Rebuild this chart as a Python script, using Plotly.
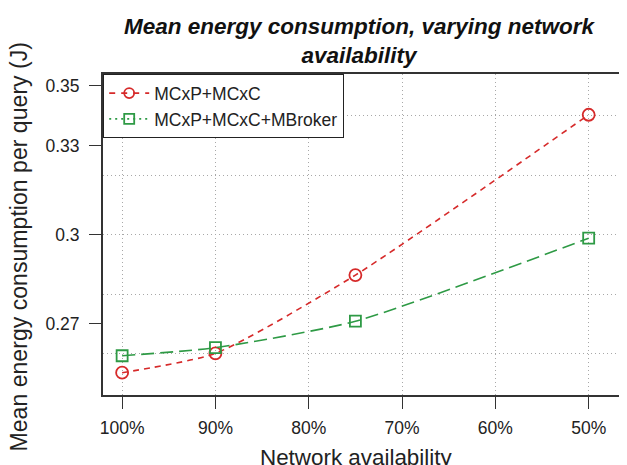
import plotly.graph_objects as go

availability = [100, 90, 75, 50]
mcxp_mcxc = [0.2536, 0.2601, 0.2864, 0.3403]
mcxp_mcxc_mbroker = [0.2593, 0.2620, 0.2709, 0.2988]

x_ticks = [100, 90, 80, 70, 60, 50]
x_tick_labels = ["100%", "90%", "80%", "70%", "60%", "50%"]
y_ticks = [0.27, 0.30, 0.33, 0.35]
y_tick_labels = ["0.27", "0.3", "0.33", "0.35"]

x_title = "Network availability"
y_title = "Mean energy consumption per query (J)"

RED = "#D62A2A"
GREEN = "#2E9A45"
FONT = "Liberation Sans, Arial, Helvetica, sans-serif"
GRID = "#A8A8A8"

fig = go.Figure()

fig.add_trace(go.Scatter(
    x=availability, y=mcxp_mcxc, mode="lines+markers", showlegend=False,
    line=dict(color=RED, width=1.6, dash="6px,5px", shape="spline", smoothing=0.6),
    marker=dict(symbol="circle-open", size=12, color=RED, line=dict(width=1.8)),
))
fig.add_trace(go.Scatter(
    x=availability, y=mcxp_mcxc_mbroker, mode="lines+markers", showlegend=False,
    line=dict(color=GREEN, width=1.6, dash="13px,6px", shape="spline", smoothing=0.6),
    marker=dict(symbol="square-open", size=11, color=GREEN, line=dict(width=1.8)),
))
# legend-only entries (legend shows dashed / dotted styles)
fig.add_trace(go.Scatter(
    x=[None], y=[None], mode="lines+markers", name="MCxP+MCxC",
    line=dict(color=RED, width=1.6, dash="6px,6px"),
    marker=dict(symbol="circle-open", size=10, color=RED, line=dict(width=1.8)),
))
fig.add_trace(go.Scatter(
    x=[None], y=[None], mode="lines+markers", name="MCxP+MCxC+MBroker",
    line=dict(color=GREEN, width=1.6, dash="2px,4px"),
    marker=dict(symbol="square-open", size=10, color=GREEN, line=dict(width=1.8)),
))

# invisible trace on overlay axis carrying the grid
fig.add_trace(go.Scatter(x=[None], y=[None], yaxis="y2", showlegend=False, hoverinfo="skip"))

fig.update_layout(
    width=619, height=457,
    margin=dict(l=95, r=1, t=66, b=70, autoexpand=False),
    paper_bgcolor="white", plot_bgcolor="white",
    font=dict(family=FONT, size=17.5, color="#222222"),
    title=dict(
        text="<b><i>Mean energy consumption, varying network<br>availability</i></b>",
        x=0.567, xanchor="center", xref="container",
        y=1 - 25.5 / 457, yanchor="middle", yref="container",
        font=dict(family=FONT, size=22.5, color="#111111"),
        automargin=False,
    ),
    xaxis=dict(
        range=[102.05, 46.0], automargin=False,
        tickmode="array", tickvals=x_ticks, ticktext=x_tick_labels,
        ticks="outside", ticklen=12, tickwidth=1.2, tickcolor="#333333",
        ticklabelstandoff=4,
        showgrid=True, gridcolor=GRID, griddash="1px,3px", gridwidth=1,
        showline=True, linecolor="#333333", linewidth=2, mirror=True,
        zeroline=False,
    ),
    yaxis=dict(
        range=[0.2461, 0.354], automargin=False,
        tickmode="array", tickvals=y_ticks, ticktext=y_tick_labels,
        ticks="outside", ticklen=12, tickwidth=1.2, tickcolor="#333333",
        ticklabelstandoff=6,
        showgrid=False,
        showline=True, linecolor="#333333", linewidth=2, mirror=True,
        zeroline=False,
    ),
    yaxis2=dict(
        range=[0.2461, 0.354], overlaying="y", side="left", automargin=False,
        tickmode="linear", tick0=0.26, dtick=0.02,
        showticklabels=False, ticks="",
        showgrid=True, gridcolor=GRID, griddash="1px,3px", gridwidth=1,
        zeroline=False, showline=False,
    ),
    legend=dict(
        x=0, y=1, xanchor="left", yanchor="top",
        bgcolor="white", bordercolor="#222222", borderwidth=1.2,
        font=dict(size=17.5, family=FONT, color="#222222"),
        itemwidth=40, tracegroupgap=0,
    ),
    annotations=[
        dict(text=x_title, xref="paper", yref="paper", x=0.4837, y=0,
             xanchor="center", yanchor="top", yshift=-48, showarrow=False,
             font=dict(family=FONT, size=22.4, color="#222222")),
        dict(text=y_title, xref="paper", yref="paper", x=0, y=0.4595,
             xanchor="center", yanchor="middle", xshift=-84, textangle=-90,
             showarrow=False,
             font=dict(family=FONT, size=23.1, color="#222222")),
    ],
)

fig.write_html("out.html")
